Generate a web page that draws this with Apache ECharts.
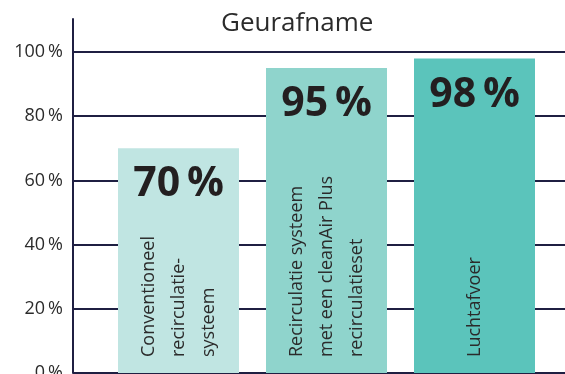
<!DOCTYPE html>
<html>
<head>
<meta charset="utf-8">
<style>
  html, body { margin: 0; padding: 0; background: #ffffff; }
  #chart { width: 565px; height: 374px; }
</style>
<script src="https://cdn.jsdelivr.net/npm/echarts@6/dist/echarts.min.js"></script>
</head>
<body>
<div id="chart"></div>
<script>
// Geurafname per afzuigsysteem
const categories = [
  'Conventioneel\nrecirculatie-\nsysteem',
  'Recirculatie systeem\nmet een cleanAir Plus\nrecirculatieset',
  'Luchtafvoer'
];
const values = [70, 95, 98];
const barColors = ['#c0e5e2', '#8fd4cc', '#5bc4bb'];
const yTicks = [0, 20, 40, 60, 80, 100];

const FONT = '"Open Sans", "Noto Sans", sans-serif';
const NAVY = '#1f1f42';
const TEXT = '#2b2b2b';

const chart = echarts.init(document.getElementById('chart'), null, { renderer: 'canvas' });

chart.setOption({
  animation: false,
  title: {
    text: 'Geurafname',
    left: 216,
    top: 6,
    textStyle: { fontFamily: FONT, fontSize: 26, fontWeight: 'normal', color: TEXT }
  },
  grid: [
    // grid lines and tick labels
    { left: 73, right: 0, top: 52, bottom: 1, outerBoundsMode: 'none', containLabel: false },
    // vertical axis line, running above the top grid line
    { left: 73, right: 0, top: 19, bottom: 1, outerBoundsMode: 'none', containLabel: false },
    // bars
    { left: 104.5, right: 16.5, top: 52, bottom: 1, outerBoundsMode: 'none', containLabel: false }
  ],
  xAxis: [
    { gridIndex: 0, type: 'value', show: false },
    { gridIndex: 1, type: 'value', show: false },
    { gridIndex: 2, type: 'category', data: categories, show: false }
  ],
  yAxis: [
    {
      gridIndex: 0, type: 'value', min: yTicks[0], max: yTicks[yTicks.length - 1], interval: 20,
      axisLine: { show: false }, axisTick: { show: false },
      splitLine: { show: true, lineStyle: { color: NAVY, width: 2 } },
      axisLabel: {
        margin: 10, fontFamily: FONT, fontSize: 18, color: TEXT,
        formatter: v => v + '\u2009%'
      }
    },
    {
      gridIndex: 1, type: 'value', min: 0, max: 100,
      axisLine: { show: true, lineStyle: { color: NAVY, width: 2 } },
      axisTick: { show: false }, axisLabel: { show: false }, splitLine: { show: false }
    },
    {
      gridIndex: 2, type: 'value', min: 0, max: 100, show: false,
      splitLine: { show: false }
    }
  ],
  series: [
    {
      type: 'bar',
      xAxisIndex: 2, yAxisIndex: 2,
      barWidth: 121,
      data: values.map((v, i) => ({ value: v, itemStyle: { color: barColors[i] } })),
      label: {
        show: true,
        position: 'insideTop',
        distance: 16,
        formatter: p => p.value + '\u2009%',
        fontFamily: FONT, fontSize: 41, fontWeight: 'bold', color: '#231f20'
      },
      z: 2
    },
    {
      // category names, written upward inside each bar
      type: 'bar',
      xAxisIndex: 2, yAxisIndex: 2,
      barWidth: 121,
      barGap: '-100%',
      data: values,
      itemStyle: { color: 'rgba(0,0,0,0)' },
      label: {
        show: true,
        position: 'insideBottom',
        distance: 16,
        rotate: 90,
        align: 'left',
        verticalAlign: 'middle',
        formatter: p => categories[p.dataIndex],
        fontFamily: FONT, fontSize: 18, lineHeight: 30, color: TEXT
      },
      z: 3
    }
  ]
});
</script>
</body>
</html>
